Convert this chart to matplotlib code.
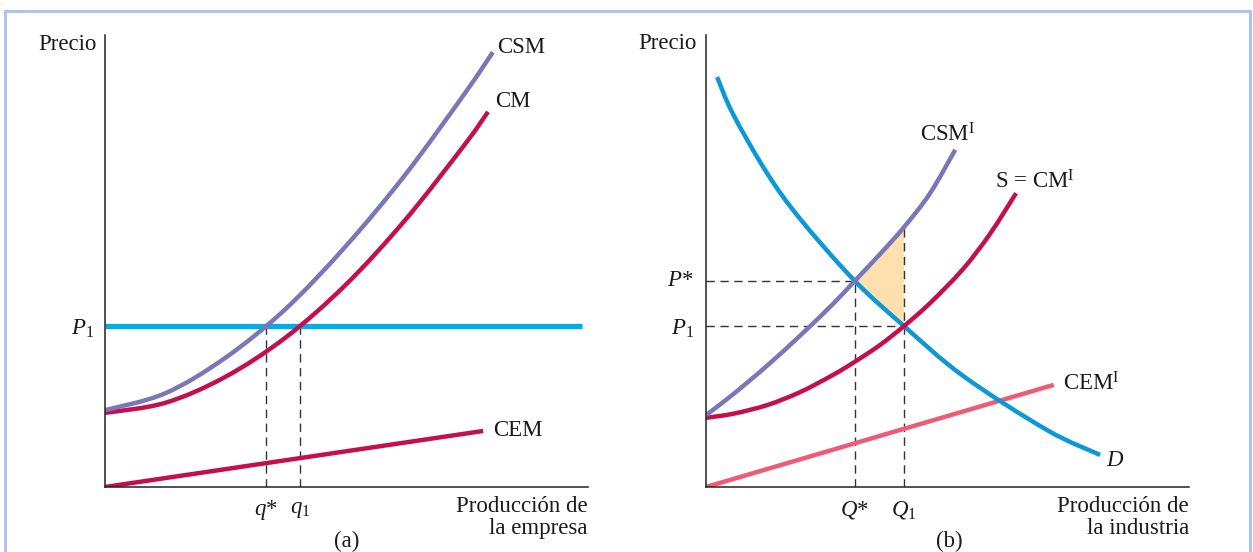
import numpy as np
import matplotlib
matplotlib.use("Agg")
import matplotlib.pyplot as plt
from matplotlib.patches import Rectangle, PathPatch
from matplotlib.path import Path

plt.rcParams['font.family'] = ['Liberation Serif', 'DejaVu Serif']
plt.rcParams['mathtext.fontset'] = 'custom'
plt.rcParams['mathtext.rm'] = 'Liberation Serif'
plt.rcParams['mathtext.it'] = 'Liberation Serif:italic'

# ---- panel (a): la empresa ----
csm_x = [0.0, 1.24, 2.48, 3.73, 4.97, 6.21, 7.45, 8.03]
csm_y = [1.70, 2.07, 2.85, 3.93, 5.31, 6.90, 8.71, 9.62]
cm_x = [0.0, 1.24, 2.48, 3.73, 4.97, 6.21, 7.45, 7.93]
cm_y = [1.64, 1.86, 2.43, 3.30, 4.46, 5.90, 7.58, 8.30]
cem_x = [0.0, 7.83]
cem_y = [0.0, 1.24]
p1_a = 3.56
p1_a_end = 9.88
q_star = 3.33
q_1 = 4.04

# ---- panel (b): la industria ----
d_x = [0.23, 0.56, 1.26, 1.95, 3.08, 4.10, 5.32, 7.06, 8.16]
d_y = [9.07, 8.25, 6.95, 5.93, 4.56, 3.56, 2.46, 1.26, 0.71]
csmi_x = [0.0, 0.56, 1.26, 1.95, 2.63, 3.08, 3.60, 4.10, 4.64, 5.16]
csmi_y = [1.59, 2.05, 2.68, 3.35, 4.05, 4.56, 5.15, 5.75, 6.50, 7.46]
cmi_x = [0.0, 0.56, 1.26, 1.95, 2.63, 3.08, 3.60, 4.10, 4.64, 5.32, 5.88, 6.42]
cmi_y = [1.53, 1.62, 1.81, 2.10, 2.48, 2.77, 3.14, 3.56, 4.07, 4.82, 5.60, 6.50]
cemi_x = [0.0, 7.20]
cemi_y = [0.0, 2.26]
p_star = 4.56
p1_b = 3.56
Q_star = 3.08
Q_1 = 4.10

BLUE_P = '#00aee6'
BLUE_D = '#0a98d6'
PURPLE = '#7a76b8'
CRIMSON = '#c30f4b'
PINK = '#ef5b74'
FILL = '#fde0ad'
DASH = dict(color='#333333', lw=1.0, ls=(0, (6, 4)), zorder=1)
FS = 16.5


def smooth_path(xs, ys):
    # Catmull-Rom through the read points, drawn as cubic Bezier segments
    p = np.column_stack([xs, ys]).astype(float)
    ext = np.vstack([p[0], p, p[-1]])
    verts = [p[0]]
    codes = [Path.MOVETO]
    for i in range(1, len(ext) - 2):
        c1 = ext[i] + (ext[i + 1] - ext[i - 1]) / 6
        c2 = ext[i + 1] - (ext[i + 2] - ext[i]) / 6
        verts += [c1, c2, ext[i + 1]]
        codes += [Path.CURVE4] * 3
    return Path(verts, codes)


def curve(ax, xs, ys, color, lw=3.2, z=3):
    ax.add_patch(PathPatch(smooth_path(xs, ys), fill=False, ec=color, lw=lw,
                           zorder=z, capstyle='butt'))


fig = plt.figure(figsize=(12.53, 5.52), dpi=100)
fig.patches.append(Rectangle((5 / 1253, -0.1), 1245 / 1253, 1.1 - 11 / 552,
                             transform=fig.transFigure, fill=False,
                             ec='#afc3e8', lw=2.2, zorder=0))

ax1 = fig.add_axes([105 / 1253, 65 / 552, 483 / 1253, 452 / 552])
ax2 = fig.add_axes([706 / 1253, 65 / 552, 483 / 1253, 452 / 552])
for ax in (ax1, ax2):
    ax.set_xlim(0, 10)
    ax.set_ylim(0, 10)
    ax.set_xticks([])
    ax.set_yticks([])
    ax.patch.set_visible(False)
    for s in ('top', 'right'):
        ax.spines[s].set_visible(False)
    for s in ('left', 'bottom'):
        ax.spines[s].set_color('#222222')
        ax.spines[s].set_linewidth(1.1)
        ax.spines[s].set_zorder(5)

# panel (a)
ax1.plot([q_star, q_star], [0, p1_a], **DASH)
ax1.plot([q_1, q_1], [0, p1_a], **DASH)
ax1.plot([0, p1_a_end], [p1_a, p1_a], color=BLUE_P, lw=3.8, zorder=2, solid_capstyle='butt')
ax1.plot(cem_x, cem_y, color=CRIMSON, lw=3.2, zorder=3, solid_capstyle='butt')
curve(ax1, cm_x, cm_y, CRIMSON)
curve(ax1, csm_x, csm_y, PURPLE, z=4)

kw = dict(fontsize=FS, clip_on=False, color='#1a1a1a')
ax1.text(-0.17, 9.78, 'Precio', ha='right', va='center', **kw)
ax1.text(8.12, 9.73, 'CSM', ha='left', va='center', **kw)
ax1.text(8.07, 8.52, 'CM', ha='left', va='center', **kw)
ax1.text(8.03, 1.24, 'CEM', ha='left', va='center', **kw)
ax1.text(-0.22, 3.50, '$P_1$', ha='right', va='center', **kw)
ax1.text(q_star, -0.5, '$q$*', ha='center', va='center', **kw)
ax1.text(q_1, -0.5, '$q_1$', ha='center', va='center', **kw)
ax1.text(10.0, -0.2, 'Producción de\nla empresa', ha='right', va='top',
         linespacing=1.05, **kw)
ax1.text(5.01, -1.2, '(a)', ha='center', va='center', **kw)

# panel (b)
sx = np.array(csmi_x)
sy = np.array(csmi_y)
dx = np.array(d_x)
dy = np.array(d_y)
m1 = (sx >= Q_star) & (sx <= Q_1)
m2 = (dx >= Q_star) & (dx <= Q_1)
ax2.fill(np.concatenate([sx[m1], dx[m2][::-1]]),
         np.concatenate([sy[m1], dy[m2][::-1]]),
         color=FILL, lw=0, zorder=1)

ax2.plot([0, Q_star], [p_star, p_star], **DASH)
ax2.plot([0, Q_1], [p1_b, p1_b], **DASH)
ax2.plot([Q_star, Q_star], [0, p_star], **DASH)
ax2.plot([Q_1, Q_1], [0, csmi_y[csmi_x.index(Q_1)]], **DASH)

ax2.plot(cemi_x, cemi_y, color=PINK, lw=3.2, zorder=2, solid_capstyle='butt')
curve(ax2, d_x, d_y, BLUE_D)
curve(ax2, cmi_x, cmi_y, CRIMSON)
curve(ax2, csmi_x, csmi_y, PURPLE, z=4)

ax2.text(-0.19, 9.82, 'Precio', ha='right', va='center', **kw)
ax2.text(4.43, 7.79, r'CSM$^{\mathrm{I}}$', ha='left', va='center', **kw)
ax2.text(5.98, 6.75, r'S = CM$^{\mathrm{I}}$', ha='left', va='center', **kw)
ax2.text(7.39, 2.28, r'CEM$^{\mathrm{I}}$', ha='left', va='center', **kw)
ax2.text(8.28, 0.58, '$D$', ha='left', va='center', **kw)
ax2.text(-0.25, p_star, '$P$*', ha='right', va='center', **kw)
ax2.text(-0.25, 3.50, '$P_1$', ha='right', va='center', **kw)
ax2.text(Q_star, -0.5, '$Q$*', ha='center', va='center', **kw)
ax2.text(Q_1, -0.5, '$Q_1$', ha='center', va='center', **kw)
ax2.text(10.0, -0.2, 'Producción de\nla industria', ha='right', va='top',
         linespacing=1.05, **kw)
ax2.text(5.03, -1.2, '(b)', ha='center', va='center', **kw)

fig.savefig('out.png', dpi=100)
